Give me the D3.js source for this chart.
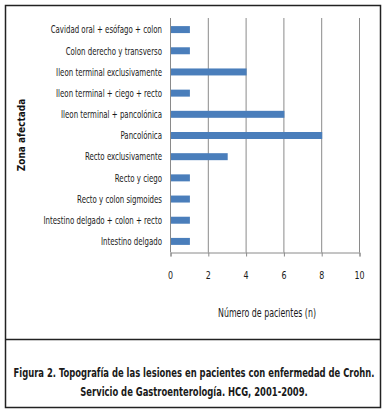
<!DOCTYPE html>
<html lang="es">
<head>
    <meta charset="UTF-8">
    <title>Topografía de las lesiones</title>
    <script src="https://d3js.org/d3.v7.min.js"></script>
    <style>
        body { margin: 0; background: #fff; }
        svg text { font-family: "DejaVu Sans Condensed", "Liberation Sans", Arial, sans-serif; }
    </style>
</head>
<body>
    <svg id="chart" width="385" height="411"></svg>
    <script>
        // Datos
        const zonas = [
            "Cavidad oral + esófago + colon",
            "Colon derecho y transverso",
            "Ileon terminal  exclusivamente",
            "Ileon terminal  + ciego + recto",
            "Ileon terminal + pancolónica",
            "Pancolónica",
            "Recto exclusivamente",
            "Recto y ciego",
            "Recto y colon sigmoides",
            "Intestino delgado  + colon + recto",
            "Intestino delgado"
        ];
        const pacientes = [1, 1, 4, 1, 6, 8, 3, 1, 1, 1, 1];
        const ticks = [0, 2, 4, 6, 8, 10];

        const svg = d3.select("#chart");

        // texto comprimido horizontalmente (la fuente original es estrecha)
        function texto(parent, tx, ty, str, size, k, anchor) {
            return parent.append("g")
                .attr("transform", `translate(${tx},${ty}) scale(${k},1)`)
                .append("text")
                .attr("text-anchor", anchor || "middle")
                .attr("font-size", size)
                .attr("fill", "#1a1a1a")
                .text(str);
        }

        // marcos
        svg.append("rect").attr("x", 5.5).attr("y", 5.5).attr("width", 375).attr("height", 402)
            .attr("fill", "none").attr("stroke", "#222").attr("stroke-width", 1.5);
        svg.append("line").attr("x1", 5.5).attr("x2", 380.5).attr("y1", 339.5).attr("y2", 339.5)
            .attr("stroke", "#222").attr("stroke-width", 1.5);

        const x = d3.scaleLinear().domain([0, 10]).range([170.5, 359.5]);
        const y = d3.scaleBand().domain(zonas).range([19, 252]).paddingInner(0.67).paddingOuter(0.335);

        // rejilla
        svg.append("g").selectAll("line").data(ticks.slice(1)).enter().append("line")
            .attr("x1", d => x(d)).attr("x2", d => x(d))
            .attr("y1", 18).attr("y2", 252.5)
            .attr("stroke", "#8a8a8a").attr("stroke-width", 1);

        // eje x
        const xAxis = svg.append("g")
            .attr("transform", "translate(0,252.5)")
            .call(d3.axisBottom(x).tickValues(ticks).tickSize(4).tickFormat(""));
        xAxis.select(".domain").attr("stroke", "#8a8a8a");
        xAxis.selectAll(".tick line").attr("stroke", "#8a8a8a");
        ticks.forEach(t => texto(svg, x(t), 279, String(t), 11, 0.8));

        // eje y
        svg.append("line").attr("x1", 170.5).attr("x2", 170.5).attr("y1", 18).attr("y2", 252.5)
            .attr("stroke", "#8a8a8a");
        zonas.forEach(z => {
            texto(svg, 162, y(z) + y.bandwidth() / 2 + 3.8, z, 11, 0.71, "end");
        });

        // barras
        svg.append("g").selectAll("rect").data(zonas).enter().append("rect")
            .attr("x", x(0) + 0.5)
            .attr("y", d => y(d))
            .attr("width", (d, i) => x(pacientes[i]) - x(0))
            .attr("height", y.bandwidth())
            .attr("fill", "#4a7ebb");

        // títulos
        texto(svg, 267, 317, "Número de pacientes (n)", 12, 0.73);
        svg.append("text").attr("transform", "translate(25,135) rotate(-90)")
            .attr("text-anchor", "middle").attr("font-size", 10).attr("font-weight", "bold")
            .attr("fill", "#111")
            .text("Zona afectada");

        // pie de figura
        const pie = [
            "Figura 2. Topografía de las lesiones en pacientes con enfermedad de Crohn.",
            "Servicio de Gastroenterología. HCG, 2001-2009."
        ];
        pie.forEach((p, i) => {
            texto(svg, 194, 377 + i * 19, p, 13, 0.72).attr("font-weight", "bold");
        });
    </script>
</body>
</html>
